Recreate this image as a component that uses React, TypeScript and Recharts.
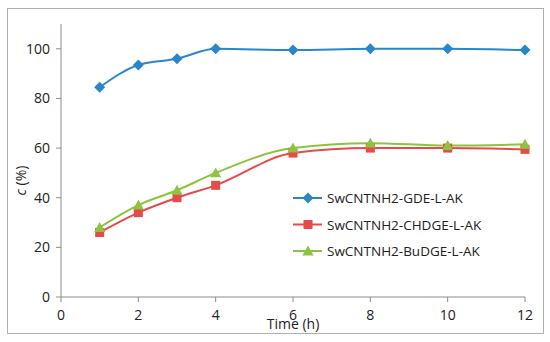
import React from 'react';
import { LineChart, Line, XAxis, YAxis } from 'recharts';

// 시간(h)별 측정값
const hours = [1, 2, 3, 4, 6, 8, 10, 12];
const gdeValues = [84.5, 93.5, 96, 100, 99.5, 100, 100, 99.5];
const chdgeValues = [26, 34, 40, 45, 58, 60, 60, 59.5];
const budgeValues = [28, 37, 43, 50, 60, 62, 61, 61.5];

const xTicks = [0, 2, 4, 6, 8, 10, 12];
const yTicks = [0, 20, 40, 60, 80, 100];

const seriesNames = ['SwCNTNH2-GDE-L-AK', 'SwCNTNH2-CHDGE-L-AK', 'SwCNTNH2-BuDGE-L-AK'];
const seriesColors = ['#2a86c8', '#e64a4a', '#8dc340'];

const chartData = hours.map((h, i) => ({
  time: h,
  gde: gdeValues[i],
  chdge: chdgeValues[i],
  budge: budgeValues[i],
}));

const FONT = '"Open Sans", sans-serif';

// 마커 모양 그리기
const Marker = ({ shape, cx, cy, color }: { shape: string; cx: number; cy: number; color: string }) => {
  if (shape === 'diamond') {
    const r = 5.5;
    return <path d={`M${cx},${cy - r}L${cx + r},${cy}L${cx},${cy + r}L${cx - r},${cy}Z`} fill={color} />;
  }
  if (shape === 'square') {
    const r = 4.5;
    return <rect x={cx - r} y={cy - r} width={r * 2} height={r * 2} fill={color} />;
  }
  const r = 5.5;
  return <path d={`M${cx},${cy - r}L${cx + r},${cy + r * 0.8}L${cx - r},${cy + r * 0.8}Z`} fill={color} />;
};

const makeDot = (shape: string, color: string) => (props: any) => {
  const { cx, cy, index } = props;
  if (cx == null || cy == null) return <g key={index} />;
  return <Marker key={index} shape={shape} cx={cx} cy={cy} color={color} />;
};

const shapes = ['diamond', 'square', 'triangle'];

// 범례 (차트 레이아웃에 영향 없도록 별도 오버레이)
const ChartLegend = () => (
  <svg width={210} height={80} style={{ position: 'absolute', left: 293, top: 190, overflow: 'visible' }}>
    {seriesNames.map((name, i) => {
      const y = 8 + i * 26.5;
      return (
        <g key={name}>
          <line x1={0} x2={29} y1={y} y2={y} stroke={seriesColors[i]} strokeWidth={2} />
          <Marker shape={shapes[i]} cx={15} cy={y} color={seriesColors[i]} />
          <text x={34} y={y} dominantBaseline="central" fontFamily={FONT} fontSize={13.5} fill="#222">
            {name}
          </text>
        </g>
      );
    })}
  </svg>
);

const YLabel = (props: any) => {
  const { viewBox } = props;
  const x = 20;
  const y = viewBox.y + viewBox.height / 2 + 20;
  return (
    <text x={x} y={y} transform={`rotate(-90, ${x}, ${y})`} textAnchor="middle" dominantBaseline="central"
      fontFamily={FONT} fontSize={14} fill="#222">
      <tspan fontStyle="italic">c</tspan> (%)
    </text>
  );
};

const XLabel = (props: any) => {
  const { viewBox } = props;
  return (
    <text x={viewBox.x + viewBox.width / 2} y={323} textAnchor="middle" dominantBaseline="central"
      fontFamily={FONT} fontSize={14} fill="#222">
      Time (h)
    </text>
  );
};

export default function App() {
  return (
    <div style={{ position: 'absolute', left: 0, top: 0, width: 550, height: 342, background: '#fff' }}>
      <div style={{ position: 'absolute', left: 7, top: 8, width: 535, height: 324, border: '1px solid #b0b0b0' }} />
      <LineChart width={550} height={342} data={chartData} margin={{ top: 24, right: 25, bottom: 0, left: 0 }}>
        <XAxis
          dataKey="time"
          type="number"
          domain={[0, 12]}
          ticks={xTicks}
          height={45}
          stroke="#8c8c8c"
          tickSize={5}
          tickLine={{ stroke: '#8c8c8c' }}
          tick={{ fontSize: 14, fontFamily: FONT, fill: '#222', dy: 6 }}
          label={<XLabel />}
        />
        <YAxis
          domain={[0, 110]}
          ticks={yTicks}
          width={61}
          stroke="#8c8c8c"
          tickSize={5}
          tickLine={{ stroke: '#8c8c8c' }}
          tick={{ fontSize: 14, fontFamily: FONT, fill: '#222', dx: -4 }}
          label={<YLabel />}
        />
        <Line dataKey="gde" name={seriesNames[0]} type="monotone" stroke={seriesColors[0]} strokeWidth={2}
          dot={makeDot('diamond', seriesColors[0])} isAnimationActive={false} />
        <Line dataKey="chdge" name={seriesNames[1]} type="monotone" stroke={seriesColors[1]} strokeWidth={2}
          dot={makeDot('square', seriesColors[1])} isAnimationActive={false} />
        <Line dataKey="budge" name={seriesNames[2]} type="monotone" stroke={seriesColors[2]} strokeWidth={2}
          dot={makeDot('triangle', seriesColors[2])} isAnimationActive={false} />
      </LineChart>
      <ChartLegend />
    </div>
  );
}
